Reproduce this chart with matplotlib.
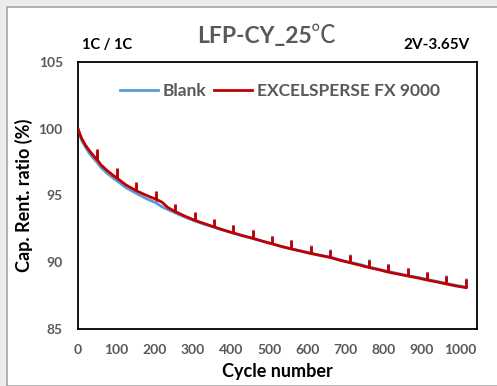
import matplotlib
matplotlib.use("Agg")
import matplotlib.pyplot as plt
from matplotlib.patches import Rectangle
from matplotlib.lines import Line2D

plt.rcParams['font.family'] = ['Lato', 'Noto Sans CJK SC', 'DejaVu Sans']

# ---- data ----
base_cycles = [0, 5, 10, 20, 30, 40, 51, 60, 75, 90, 102, 125, 153, 180, 204, 220, 235,
               254, 280, 305, 330, 356, 380, 406, 430, 457, 480, 508, 530, 558, 585,
               609, 635, 660, 685, 711, 735, 762, 790, 812, 840, 863, 890, 913, 940,
               964, 990, 1015]
red_base = [100.0, 99.6, 99.25, 98.75, 98.35, 98.0, 97.65, 97.3, 96.9, 96.55, 96.3, 95.8,
            95.35, 95.0, 94.72, 94.5, 94.1, 93.8, 93.45, 93.15, 92.9, 92.65, 92.42, 92.2,
            92.0, 91.8, 91.6, 91.38, 91.2, 91.0, 90.82, 90.66, 90.5, 90.36, 90.15, 89.97,
            89.8, 89.6, 89.42, 89.26, 89.1, 88.97, 88.82, 88.67, 88.52, 88.37, 88.22, 88.1]
blue_base = [100.0, 99.5, 99.1, 98.6, 98.15, 97.8, 97.45, 97.1, 96.7, 96.35, 96.1, 95.6,
             95.15, 94.75, 94.45, 94.15, 93.95, 93.7, 93.38, 93.1, 92.85, 92.62, 92.4, 92.18,
             91.98, 91.78, 91.6, 91.38, 91.2, 91.0, 90.84, 90.68, 90.52, 90.38, 90.18, 90.0,
             89.85, 89.64, 89.46, 89.3, 89.14, 89.0, 88.86, 88.72, 88.56, 88.42, 88.26, 88.14]
spike_cycles = [51, 102, 153, 204, 254, 305, 356, 406, 457, 508, 558, 609, 660, 711, 762,
                812, 863, 913, 964, 1015]
red_spike_tops = [98.45, 97.05, 96.0, 95.3, 94.4, 93.75, 93.25, 92.8, 92.4, 91.98, 91.65,
                  91.25, 90.95, 90.55, 90.2, 89.85, 89.55, 89.25, 88.95, 88.72]
blue_spike_tops = [98.3, 96.9, 95.8, 95.1, 94.3, 93.7, 93.2, 92.8, 92.4, 92.0, 91.7,
                   91.3, 91.0, 90.6, 90.25, 89.9, 89.6, 89.3, 89.05, 88.8]

series_names = ["Blank", "EXCELSPERSE FX 9000"]
title_main = "LFP-CY_25"
title_unit = "\u2103"
x_ticks = [0, 100, 200, 300, 400, 500, 600, 700, 800, 900, 1000]
y_ticks = [85, 90, 95, 100, 105]

BLUE = "#5B9BD5"
RED = "#C00000"
GRAY = "#595959"

fig = plt.figure(figsize=(4.97, 3.86), dpi=100)
fig.patch.set_facecolor("#ececec")
fig.add_artist(Rectangle((7 / 497, 0), 1, 1 - 7 / 386, transform=fig.transFigure,
                         facecolor="white", edgecolor="#a6a6a6", linewidth=1.2, zorder=0))

ax = fig.add_axes([78 / 497, 1 - 329 / 386, (477 - 78) / 497, (329 - 62) / 386])
ax.set_facecolor("white")

def spike_bases(base):
    return [base[base_cycles.index(c)] for c in spike_cycles]

ax.plot(base_cycles, blue_base, color=BLUE, lw=2.0, zorder=2)
ax.vlines(spike_cycles, spike_bases(blue_base), blue_spike_tops, color=BLUE, lw=2.0, zorder=2)
ax.plot(base_cycles, red_base, color=RED, lw=2.0, zorder=3)
ax.vlines(spike_cycles, spike_bases(red_base), red_spike_tops, color=RED, lw=2.0, zorder=3)

ax.set_xlim(0, 1044)
ax.set_ylim(85, 105)
ax.set_xticks(x_ticks)
ax.set_yticks(y_ticks)
ax.tick_params(length=0, labelsize=10, labelcolor=GRAY)
ax.tick_params(axis="y", pad=11)
ax.tick_params(axis="x", pad=11)
for lab in ax.get_xticklabels() + ax.get_yticklabels():
    lab.set_fontweight("bold")
for sp in ax.spines.values():
    sp.set_color("black")
    sp.set_linewidth(1.3)

ax.set_xlabel("Cycle number", fontsize=13, fontweight="bold", labelpad=5)
ax.set_ylabel("Cap. Rent. ratio (%)", fontsize=13, fontweight="bold", labelpad=4)

handles = [Line2D([], [], color=BLUE, lw=2), Line2D([], [], color=RED, lw=2)]
leg = ax.legend(handles, series_names, loc="center", bbox_to_anchor=(0.506, 0.891),
                ncol=2, frameon=False, handlelength=2.2, handletextpad=0.3,
                columnspacing=0.4, prop={"size": 12.5, "weight": "bold"})
for t in leg.get_texts():
    t.set_color(GRAY)

fig.text(312 / 497, 1 - 37 / 386, title_main, ha="right", va="center", fontsize=16.5,
         color=GRAY, fontweight="bold")
fig.text(311 / 497, 1 - 36 / 386, title_unit, ha="left", va="center", fontsize=18,
         color=GRAY, fontweight="light", family=["Noto Sans CJK SC", "DejaVu Sans"])
fig.text(82 / 497, 1 - 45 / 386, "1C / 1C", ha="left", va="center", fontsize=10.5,
         fontweight="bold", color="black")
fig.text(470 / 497, 1 - 45 / 386, "2V-3.65V", ha="right", va="center", fontsize=11,
         fontweight="bold", color="black")

fig.savefig("out.png", dpi=100)
